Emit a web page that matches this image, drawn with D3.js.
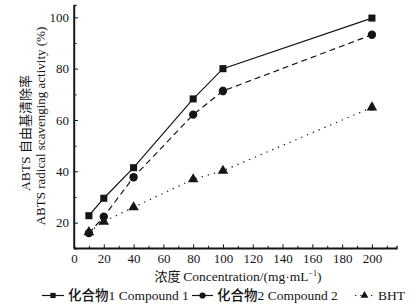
<!DOCTYPE html>
<html><head><meta charset="utf-8">
<script src="https://cdn.jsdelivr.net/npm/d3@7/dist/d3.min.js"></script>
<style>body{margin:0;background:#fff}svg{display:block}</style>
</head><body><svg id="c" width="416" height="307"></svg>
<script>
const concentrations = [10, 20, 40, 80, 100, 200];
const compound1 = [22.7, 29.5, 41.4, 68.2, 80.0, 99.7];
const compound2 = [15.9, 22.3, 37.7, 62.1, 71.3, 93.2];
const bht = [16.3, 20.4, 26.0, 36.9, 40.2, 64.9];
const err1 = [0.6, 0.6, 0.7, 0.8, 0.8, 0.6];
const err2 = [0.6, 0.8, 0.8, 0.8, 1.5, 0.7];
const errB = [0.5, 0.6, 0.7, 0.7, 0.8, 1.2];
const xTicks = [0, 20, 40, 60, 80, 100, 120, 140, 160, 180, 200];
const yTicks = [20, 40, 60, 80, 100];
const seriesNames = ["化合物1 Compound 1", "化合物2 Compound 2", "BHT"];

const svg = d3.select("#c");
const x = d3.scaleLinear().domain([0, 216.5]).range([74, 396.5]);
const y = d3.scaleLinear().domain([10, 104.8]).range([248.3, 5]);
const serif = "'Liberation Serif','Times New Roman',serif";
const cjk = "'Noto Sans CJK SC',sans-serif";
const ink = "#151515";

// axes
const gx = svg.append("g").attr("transform", `translate(0,${y(10)})`)
  .call(d3.axisBottom(x).tickValues(xTicks).tickSize(-4).tickPadding(5.5).tickFormat(d3.format("d")));
const gxm = svg.append("g").attr("transform", `translate(0,${y(10)})`)
  .call(d3.axisBottom(x).tickValues(d3.range(10, 211, 20)).tickSize(-2.5).tickFormat(""));
const gy = svg.append("g").attr("transform", `translate(${x(0)},0)`)
  .call(d3.axisLeft(y).tickValues(yTicks).tickSize(-4).tickPadding(5).tickFormat(d3.format("d")));
const gym = svg.append("g").attr("transform", `translate(${x(0)},0)`)
  .call(d3.axisLeft(y).tickValues(d3.range(30, 101, 20)).tickSize(-2.5).tickFormat(""));
[gx, gxm, gy, gym].forEach(g => {
  g.select(".domain").attr("stroke", ink).attr("stroke-width", 1.4);
  g.selectAll(".tick line").attr("stroke", ink).attr("stroke-width", 1);
  g.selectAll("text").attr("font-family", serif).attr("font-size", 13).attr("fill", ink);
});
gx.select(".domain").attr("d", `M${x(0)},0H${x(216.5)}`);
gy.select(".domain").attr("d", `M0,${y(10)}V${y(104.8)}`);

// axis titles
const yl = svg.append("text").attr("transform", "translate(29.5,133) rotate(-90)")
  .attr("text-anchor", "middle").attr("fill", ink).attr("font-size", 13.5);
yl.append("tspan").attr("font-family", serif).text("ABTS ");
yl.append("tspan").attr("font-family", cjk).attr("font-size", 13).text("自由基清除率");
svg.append("text").attr("transform", "translate(45,126) rotate(-90)")
  .attr("text-anchor", "middle").attr("fill", ink).attr("font-family", serif).attr("font-size", 13)
  .text("ABTS radical scavenging activity (%)");
const xl = svg.append("text").attr("x", 238).attr("y", 280.5).attr("text-anchor", "middle")
  .attr("fill", ink).attr("font-size", 13.5);
xl.append("tspan").attr("font-family", cjk).attr("font-size", 13).text("浓度 ");
xl.append("tspan").attr("font-family", serif).text("Concentration/(mg·mL");
xl.append("tspan").attr("font-family", serif).attr("font-size", 8).attr("dy", -5).text("−1");
xl.append("tspan").attr("font-family", serif).attr("dy", 5).text(")");

// series
const series = [
  {vals: compound1, err: err1, dash: null, shape: d3.symbolSquare, size: 50},
  {vals: compound2, err: err2, dash: "6,4", shape: d3.symbolCircle, size: 55},
  {vals: bht, err: errB, dash: "1.3,5", shape: d3.symbolTriangle, size: 48}
];
const line = d3.line().x(d => x(d[0])).y(d => y(d[1]));
series.forEach(s => {
  const pts = concentrations.map((c, i) => [c, s.vals[i], s.err[i]]);
  svg.append("path").datum(pts).attr("d", line).attr("fill", "none")
    .attr("stroke", ink).attr("stroke-width", 1.2)
    .attr("stroke-dasharray", s.dash);
  svg.append("g").selectAll("path.eb").data(pts).join("path")
    .attr("d", d => `M${x(d[0]) - 2.5},${y(d[1] + d[2])}H${x(d[0]) + 2.5}M${x(d[0])},${y(d[1] + d[2])}V${y(d[1] - d[2])}M${x(d[0]) - 2.5},${y(d[1] - d[2])}H${x(d[0]) + 2.5}`)
    .attr("stroke", "#999").attr("stroke-width", 0.8).attr("fill", "none");
  svg.append("g").selectAll("path.m").data(pts).join("path")
    .attr("transform", d => `translate(${x(d[0])},${y(d[1])})`)
    .attr("d", d3.symbol().type(s.shape).size(s.size)).attr("fill", ink);
});

// legend
const legendItems = [
  {x0: 42, x1: 64, tx: 68, s: series[0]},
  {x0: 192, x1: 213, tx: 217, s: series[1]},
  {x0: 355, x1: 374, tx: 378, s: series[2]}
];
legendItems.forEach((li, i) => {
  const ly = 295.5;
  svg.append("line").attr("x1", li.x0).attr("x2", li.x1).attr("y1", ly).attr("y2", ly)
    .attr("stroke", ink).attr("stroke-width", 1.2).attr("stroke-dasharray", i === 2 ? "1.3,4" : null);
  svg.append("path").attr("transform", `translate(${(li.x0 + li.x1) / 2},${ly})`)
    .attr("d", d3.symbol().type(li.s.shape).size(li.s.size * 0.55)).attr("fill", ink);
  const t = svg.append("text").attr("x", li.tx).attr("y", ly + 4.5).attr("fill", ink).attr("font-size", 13.5);
  const name = seriesNames[i];
  const m = name.match(/^([^\x00-\x7f]+)(.*)$/);
  if (m) {
    t.append("tspan").attr("font-family", cjk).attr("font-size", 13.5).attr("font-weight", 500).text(m[1]);
    t.append("tspan").attr("font-family", serif).text(m[2]);
  } else {
    t.append("tspan").attr("font-family", serif).text(name);
  }
});
</script></body></html>
